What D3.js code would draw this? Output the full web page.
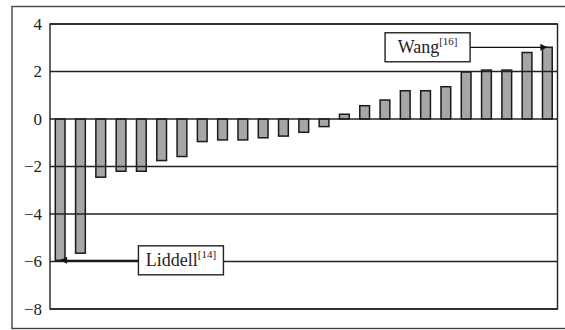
<!DOCTYPE html>
<html>
<head>
<meta charset="utf-8">
<script src="https://cdn.jsdelivr.net/npm/d3@7"></script>
<style>
  html, body { margin: 0; padding: 0; background: #fff; }
  svg { display: block; }
  text { font-family: "Liberation Serif", "Times New Roman", serif; fill: #222; }
</style>
</head>
<body>
<svg id="chart" width="565" height="330"></svg>
<script>
// ---- data ----
const values = [-5.95, -5.65, -2.45, -2.2, -2.2, -1.75, -1.58, -0.95, -0.88, -0.88,
                -0.79, -0.72, -0.56, -0.32, 0.2, 0.56, 0.8, 1.19, 1.19, 1.36,
                1.98, 2.06, 2.06, 2.8, 3.02];
const categories = values.map((d, i) => i);
const yTicks = [-8, -6, -4, -2, 0, 2, 4];
const annoNames = ["Liddell", "Wang"];
const annoRefs = ["[14]", "[16]"];
const annoBar = [0, 24];          // bar index the arrow points at
const annoBoxAt = [5.95, 18.1];   // box centre, in bar-index units

// ---- layout ----
const svg = d3.select("#chart");
const mLeft = 50, mRight = 557.5, mTop = 24, mBottom = 309;

const x = d3.scaleBand().domain(categories).range([mLeft, mRight])
  .paddingInner(0.52).paddingOuter(0.26);
const y = d3.scaleLinear().domain([-8, 4]).range([mBottom, mTop]);
const cx = i => x(0) + x.bandwidth() / 2 + i * x.step();

// outer frame
svg.append("rect").attr("x", 12).attr("y", 6.5).attr("width", 565).attr("height", 322)
  .attr("fill", "none").attr("stroke", "#444").attr("stroke-width", 1.4);

// bars
svg.append("g").selectAll("rect").data(values).join("rect")
  .attr("x", (d, i) => x(i))
  .attr("width", x.bandwidth())
  .attr("y", d => y(Math.max(0, d)))
  .attr("height", d => Math.abs(y(d) - y(0)))
  .attr("fill", "#a6a6a6")
  .attr("stroke", "#1a1a1a")
  .attr("stroke-width", 1.5);

// gridlines (drawn over bars)
svg.append("g").selectAll("line").data(yTicks).join("line")
  .attr("x1", mLeft).attr("x2", mRight)
  .attr("y1", d => y(d)).attr("y2", d => y(d))
  .attr("stroke", "#222").attr("stroke-width", 1.3);

// plot frame
svg.append("rect").attr("x", mLeft).attr("y", mTop)
  .attr("width", mRight - mLeft).attr("height", mBottom - mTop)
  .attr("fill", "none").attr("stroke", "#222").attr("stroke-width", 1.4);

// y axis labels
const yAxis = d3.axisLeft(y).tickValues(yTicks).tickSize(0).tickPadding(8);
const ga = svg.append("g").attr("transform", `translate(${mLeft},0)`).call(yAxis);
ga.select(".domain").remove();
ga.selectAll("text").attr("font-family", "Liberation Serif, serif")
  .attr("font-size", 17).attr("fill", "#222");

// arrow marker
svg.append("defs").append("marker")
  .attr("id", "ah").attr("viewBox", "0 0 10 10").attr("refX", 10).attr("refY", 5)
  .attr("markerWidth", 10).attr("markerHeight", 7).attr("markerUnits", "userSpaceOnUse")
  .attr("orient", "auto")
  .append("path").attr("d", "M0,0 L10,5 L0,10 Z").attr("fill", "#111");

// annotations
const boxW = 85, boxH = 29;
annoNames.forEach((name, k) => {
  const bi = annoBar[k];
  const ay = y(values[bi]);
  const bx = cx(annoBoxAt[k]);
  const tipX = cx(bi);
  const edge = tipX < bx ? bx - boxW / 2 : bx + boxW / 2;
  svg.append("line")
    .attr("x1", edge).attr("x2", tipX).attr("y1", ay).attr("y2", ay)
    .attr("stroke", "#111").attr("stroke-width", 1.3)
    .attr("marker-end", "url(#ah)");
  svg.append("rect")
    .attr("x", bx - boxW / 2).attr("y", ay - boxH / 2)
    .attr("width", boxW).attr("height", boxH)
    .attr("fill", "#fff").attr("stroke", "#222").attr("stroke-width", 1.4);
  const t = svg.append("text").attr("x", bx).attr("y", ay + 6)
    .attr("text-anchor", "middle").attr("font-size", 18);
  t.append("tspan").text(name);
  t.append("tspan").attr("font-size", 11).attr("dy", -8).text(annoRefs[k]);
});
</script>
</body>
</html>
